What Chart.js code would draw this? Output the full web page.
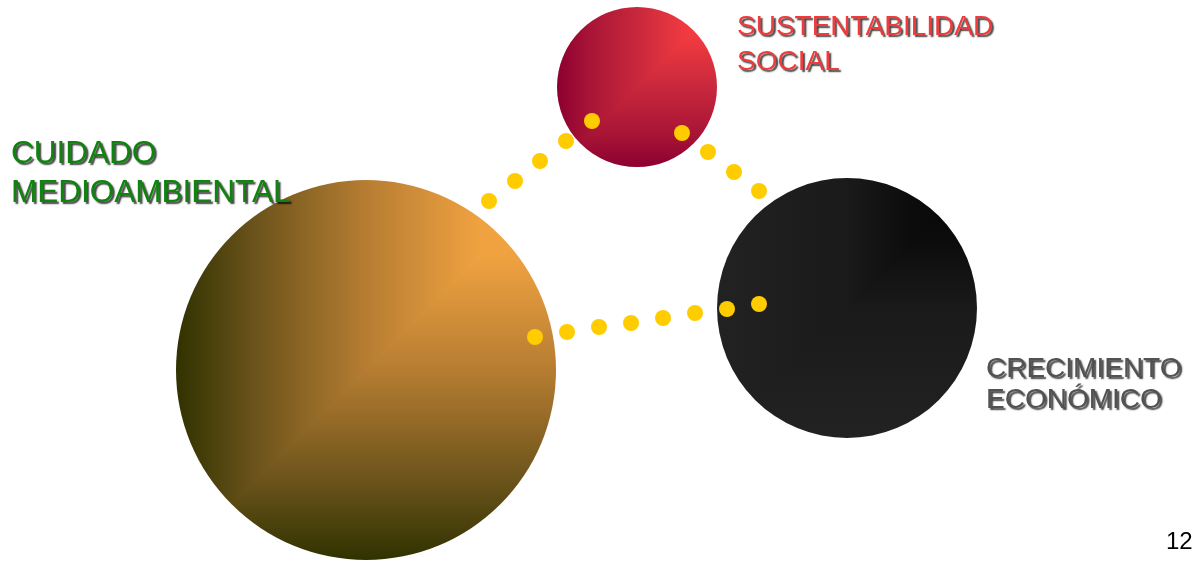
<!DOCTYPE html>
<html>
<head>
<meta charset="utf-8">
<script src="https://cdn.jsdelivr.net/npm/chart.js@4/dist/chart.umd.min.js"></script>
<style>
  html, body { margin: 0; padding: 0; background: #fff; }
  #wrap { width: 1193px; height: 562px; position: relative; }
</style>
</head>
<body>
<div id="wrap"><canvas id="myChart"></canvas></div>
<script>
// circles (pixel-like coordinates, y measured from top)
const circleNames = ['CUIDADO MEDIOAMBIENTAL', 'SUSTENTABILIDAD SOCIAL', 'CRECIMIENTO ECONÓMICO'];
const circleX = [366, 637, 847];
const circleY = [370, 87, 308];
const circleR = [190, 80, 130];

// yellow connecting dots
const dotX = [592, 566, 540, 515, 489, 682, 708, 734, 759, 535, 567, 599, 631, 663, 695, 727, 759];
const dotY = [121, 141, 161, 181, 201, 133, 152, 172, 191, 337, 332, 327, 323, 318, 313, 309, 304];

const labelLines = [['CUIDADO', 'MEDIOAMBIENTAL'], ['SUSTENTABILIDAD', 'SOCIAL'], ['CRECIMIENTO', 'ECONÓMICO']];
const pageNumber = '12';

// gradient stops per circle, from the top-right corner outwards
const circleStops = [
    [[0, 'rgb(244,166,66)'], [0.2, 'rgb(240,162,64)'], [0.5, 'rgb(182,125,50)'], [0.8, 'rgb(105,82,26)'], [1, 'rgb(48,50,0)']],
    [[0, 'rgb(248,62,66)'], [0.2, 'rgb(240,58,64)'], [0.5, 'rgb(200,40,60)'], [0.8, 'rgb(168,20,54)'], [1, 'rgb(140,0,48)']],
    [[0, 'rgb(6,6,6)'], [0.25, 'rgb(12,12,12)'], [0.5, 'rgb(26,26,26)'], [1, 'rgb(34,34,34)']]
];

let zip = (xs, ys, rs) => xs.map((x, i) => ({x: x, y: ys[i], r: rs ? rs[i] : 8}));

// corner style fill: horizontal gradient above the diagonal, vertical below it
const patterns = {};
function circleFill(ctx) {
    const chart = ctx.chart;
    const i = ctx.dataIndex;
    if (!chart.chartArea || i === undefined) return 'rgb(200,130,50)';
    const key = i + ':' + chart.width + 'x' + chart.height;
    if (patterns[key]) return patterns[key];
    const cx = chart.scales.x.getPixelForValue(circleX[i]);
    const cy = chart.scales.y.getPixelForValue(circleY[i]);
    const r = circleR[i];
    const L = cx - r, R = cx + r, T = cy - r, B = cy + r;
    const off = document.createElement('canvas');
    off.width = chart.width;
    off.height = chart.height;
    const o = off.getContext('2d');
    const gv = o.createLinearGradient(0, T, 0, B);
    const gh = o.createLinearGradient(R, 0, L, 0);
    circleStops[i].forEach(s => { gv.addColorStop(s[0], s[1]); gh.addColorStop(s[0], s[1]); });
    o.fillStyle = gv;
    o.fillRect(L - 2, T - 2, R - L + 4, B - T + 4);
    o.save();
    o.beginPath();
    o.moveTo(L - 2, T - 2);
    o.lineTo(R + 2, T - 2);
    o.lineTo(L - 2, B + 2);
    o.closePath();
    o.clip();
    o.fillStyle = gh;
    o.fillRect(L - 2, T - 2, R - L + 4, B - T + 4);
    o.restore();
    patterns[key] = chart.ctx.createPattern(off, 'no-repeat');
    return patterns[key];
}

const labelPlugin = {
    id: 'labels',
    afterDraw(chart) {
        const c = chart.ctx;
        const styles = [
            {color: 'rgb(14,132,14)', size: 31.5, x: 11, y: 163, step: 39},
            {color: 'rgb(240,58,60)', size: 28, x: 737, y: 35, step: 35},
            {color: 'rgb(82,82,82)', size: 28, x: 986, y: 377, step: 31}
        ];
        c.save();
        c.textBaseline = 'alphabetic';
        c.shadowColor = 'rgba(0,0,0,0.75)';
        c.shadowOffsetX = 2;
        c.shadowOffsetY = 2;
        c.shadowBlur = 1.5;
        labelLines.forEach((lines, i) => {
            const s = styles[i];
            c.font = s.size + 'px "Liberation Sans", Arial, sans-serif';
            c.fillStyle = s.color;
            lines.forEach((t, j) => c.fillText(t, s.x, s.y + j * s.step));
        });
        c.shadowColor = 'transparent';
        c.fillStyle = '#000';
        c.font = '24px "Liberation Sans", Arial, sans-serif';
        c.fillText(pageNumber, 1166, 549);
        c.restore();
    }
};

const data = {
    datasets: [{
        label: 'dots',
        data: zip(dotX, dotY),
        backgroundColor: 'rgb(255,204,0)',
        borderWidth: 0,
        clip: false
    },
    {
        label: 'circles',
        data: zip(circleX, circleY, circleR),
        backgroundColor: circleFill,
        borderWidth: 0,
        clip: false
    }]
};

const config = {
    type: 'bubble',
    data: data,
    options: {
        responsive: true,
        maintainAspectRatio: false,
        animation: false,
        layout: {padding: 0, autoPadding: false},
        scales: {
            x: {type: 'linear', min: 0, max: 1193, display: false},
            y: {type: 'linear', min: 0, max: 562, reverse: true, display: false}
        },
        plugins: {legend: {display: false}, tooltip: {enabled: false}},
        elements: {point: {hoverRadius: 0}}
    },
    plugins: [labelPlugin]
};

new Chart(document.getElementById('myChart'), config);
</script>
</body>
</html>
